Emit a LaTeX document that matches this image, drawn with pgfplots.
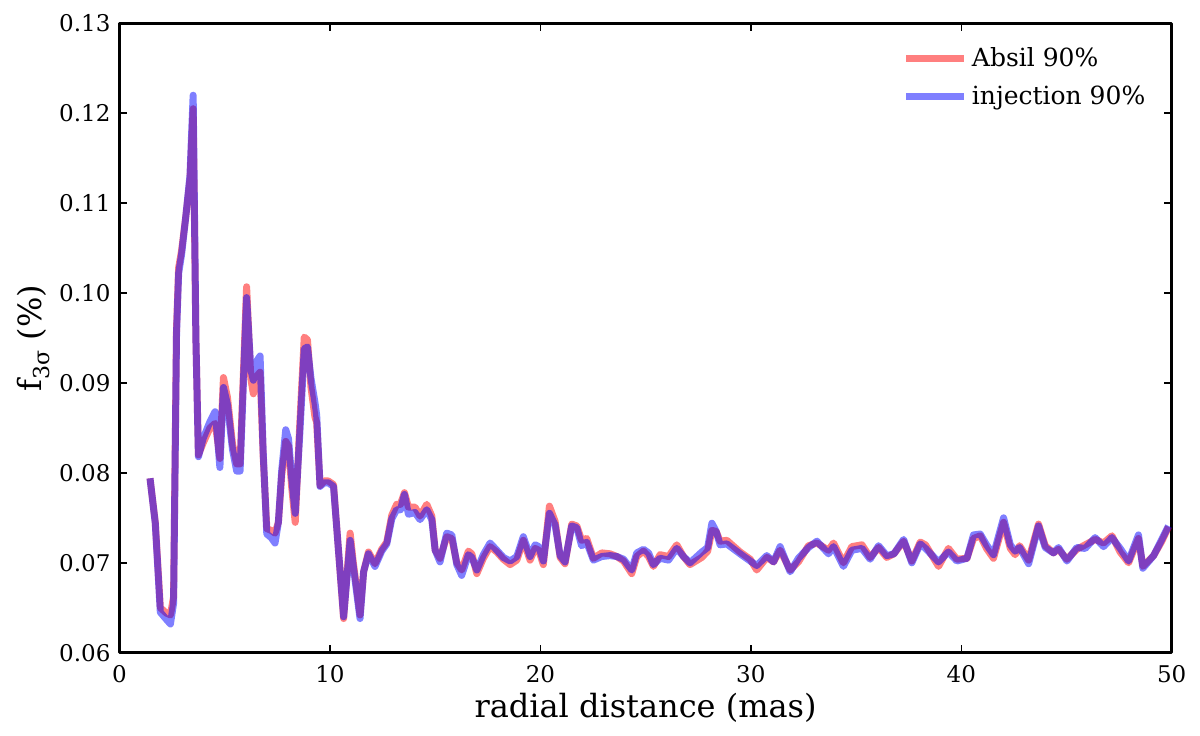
\documentclass[border=0pt]{standalone}
\usepackage{fontspec}
\setmainfont{DejaVu Serif}
\usepackage{pgfplots}
\usepackage{pgfplotstable}
\pgfplotsset{compat=1.18}

% Absil 90%
\pgfplotstableread{
x y
1.45 0.0794
1.70 0.0745
1.94 0.0650
2.23 0.0644
2.42 0.0642
2.57 0.0662
2.71 0.0960
2.81 0.1028
2.95 0.1047
3.15 0.1085
3.35 0.1127
3.50 0.1205
3.63 0.0950
3.75 0.0820
3.97 0.0833
4.30 0.0850
4.54 0.0855
4.65 0.0838
4.77 0.0816
4.94 0.0906
5.13 0.0884
5.37 0.0832
5.57 0.0810
5.73 0.0810
6.04 0.1007
6.24 0.0905
6.36 0.0888
6.54 0.0908
6.68 0.0912
6.83 0.0818
7.00 0.0738
7.21 0.0736
7.39 0.0733
7.55 0.0745
7.71 0.0798
7.90 0.0835
8.03 0.0830
8.18 0.0785
8.35 0.0745
8.57 0.0855
8.78 0.0951
8.93 0.0948
9.10 0.0895
9.29 0.0862
9.37 0.0856
9.53 0.0786
9.73 0.0791
9.92 0.0791
10.17 0.0787
10.65 0.0638
10.96 0.0733
11.10 0.0702
11.43 0.0642
11.60 0.0690
11.83 0.0712
12.14 0.0699
12.46 0.0715
12.70 0.0723
12.94 0.0753
13.17 0.0765
13.35 0.0765
13.54 0.0778
13.73 0.0762
14.04 0.0762
14.28 0.0752
14.60 0.0765
14.84 0.0752
15.00 0.0714
15.23 0.0705
15.55 0.0729
15.79 0.0727
16.03 0.0700
16.26 0.0692
16.58 0.0713
16.74 0.0710
16.98 0.0688
17.29 0.0705
17.61 0.0718
17.93 0.0712
18.24 0.0704
18.56 0.0698
18.88 0.0703
19.19 0.0725
19.51 0.0703
19.75 0.0716
19.92 0.0714
20.14 0.0698
20.43 0.0763
20.70 0.0746
20.94 0.0706
21.17 0.0699
21.49 0.0743
21.73 0.0741
21.96 0.0725
22.20 0.0727
22.52 0.0705
22.92 0.0711
23.31 0.0710
23.63 0.0707
23.95 0.0702
24.34 0.0688
24.58 0.0707
24.90 0.0713
25.14 0.0707
25.37 0.0696
25.69 0.0709
26.09 0.0707
26.48 0.0720
26.80 0.0707
27.11 0.0698
27.67 0.0706
27.95 0.0713
28.15 0.0736
28.35 0.0735
28.54 0.0724
28.86 0.0725
29.49 0.0712
29.97 0.0704
30.28 0.0692
30.76 0.0706
31.08 0.0701
31.39 0.0714
31.87 0.0692
32.26 0.0701
32.74 0.0719
33.14 0.0722
33.69 0.0714
33.93 0.0722
34.40 0.0700
34.80 0.0718
35.28 0.0720
35.67 0.0706
36.07 0.0717
36.46 0.0706
36.80 0.0710
37.26 0.0724
37.65 0.0702
38.05 0.0723
38.30 0.0720
38.92 0.0696
39.39 0.0716
39.79 0.0704
40.27 0.0705
40.58 0.0727
40.90 0.0730
41.20 0.0716
41.53 0.0705
42.01 0.0745
42.33 0.0716
42.56 0.0709
42.77 0.0719
43.20 0.0703
43.67 0.0743
43.99 0.0719
44.38 0.0711
44.62 0.0715
45.02 0.0704
45.49 0.0715
45.89 0.0720
46.36 0.0726
46.76 0.0722
47.16 0.0730
47.55 0.0712
47.95 0.0700
48.42 0.0727
48.63 0.0696
49.14 0.0708
49.53 0.0724
49.85 0.0740
}\absil

% injection 90%
\pgfplotstableread{
x y
1.45 0.0794
1.70 0.0744
1.94 0.0645
2.23 0.0637
2.42 0.0632
2.57 0.0655
2.71 0.0955
2.81 0.1022
2.95 0.1043
3.15 0.1085
3.35 0.1131
3.50 0.1220
3.63 0.0950
3.75 0.0818
3.97 0.0838
4.30 0.0857
4.54 0.0868
4.65 0.0842
4.77 0.0806
4.94 0.0895
5.13 0.0876
5.37 0.0826
5.57 0.0802
5.73 0.0802
6.04 0.0995
6.24 0.0915
6.36 0.0903
6.54 0.0925
6.68 0.0930
6.83 0.0822
7.00 0.0732
7.21 0.0728
7.39 0.0722
7.55 0.0745
7.71 0.0803
7.90 0.0848
8.03 0.0838
8.18 0.0795
8.35 0.0755
8.57 0.0845
8.78 0.0938
8.93 0.0940
9.10 0.0905
9.29 0.0878
9.37 0.0864
9.53 0.0785
9.73 0.0789
9.92 0.0789
10.17 0.0785
10.65 0.0640
10.96 0.0725
11.10 0.0698
11.43 0.0638
11.60 0.0690
11.83 0.0710
12.14 0.0696
12.46 0.0713
12.70 0.0721
12.94 0.0749
13.17 0.0759
13.35 0.0759
13.54 0.0776
13.73 0.0754
14.04 0.0756
14.28 0.0748
14.60 0.0759
14.84 0.0748
15.00 0.0714
15.23 0.0701
15.55 0.0733
15.79 0.0731
16.03 0.0698
16.26 0.0686
16.58 0.0709
16.74 0.0706
16.98 0.0692
17.29 0.0709
17.61 0.0722
17.93 0.0714
18.24 0.0706
18.56 0.0702
18.88 0.0707
19.19 0.0729
19.51 0.0707
19.75 0.0720
19.92 0.0718
20.14 0.0702
20.43 0.0755
20.70 0.0742
20.94 0.0708
21.17 0.0701
21.49 0.0741
21.73 0.0739
21.96 0.0719
22.20 0.0723
22.52 0.0703
22.92 0.0707
23.31 0.0708
23.63 0.0707
23.95 0.0704
24.34 0.0692
24.58 0.0711
24.90 0.0715
25.14 0.0711
25.37 0.0698
25.69 0.0705
26.09 0.0703
26.48 0.0716
26.80 0.0707
27.11 0.0700
27.67 0.0712
27.95 0.0717
28.15 0.0744
28.35 0.0735
28.54 0.0720
28.86 0.0721
29.49 0.0710
29.97 0.0702
30.28 0.0697
30.76 0.0708
31.08 0.0701
31.39 0.0718
31.87 0.0690
32.26 0.0705
32.74 0.0717
33.14 0.0724
33.69 0.0710
33.93 0.0718
34.40 0.0696
34.80 0.0714
35.28 0.0716
35.67 0.0704
36.07 0.0719
36.46 0.0708
36.80 0.0710
37.26 0.0726
37.65 0.0700
38.05 0.0721
38.30 0.0716
38.92 0.0701
39.39 0.0712
39.79 0.0702
40.27 0.0705
40.58 0.0731
40.90 0.0732
41.20 0.0720
41.53 0.0709
42.01 0.0750
42.33 0.0720
42.56 0.0713
42.77 0.0717
43.20 0.0699
43.67 0.0741
43.99 0.0717
44.38 0.0711
44.62 0.0717
45.02 0.0702
45.49 0.0717
45.89 0.0716
46.36 0.0728
46.76 0.0718
47.16 0.0728
47.55 0.0716
47.95 0.0702
48.42 0.0731
48.63 0.0694
49.14 0.0708
49.53 0.0726
49.85 0.0741
}\injection

\begin{document}
\begin{tikzpicture}
\begin{axis}[
    scale only axis,
    width=526.1pt, height=314.7pt,
    xmin=0, xmax=50,
    ymin=0.06, ymax=0.13,
    xtick={0,10,20,30,40,50},
    ytick={0.06,0.07,0.08,0.09,0.10,0.11,0.12,0.13},
    minor tick num=0,
    /pgf/number format/assume math mode=true,
    yticklabel style={/pgf/number format/fixed, /pgf/number format/fixed zerofill, /pgf/number format/precision=2, font=\fontsize{11.5}{12}\selectfont, xshift=-1pt},
    xticklabel style={font=\fontsize{11.5}{12}\selectfont, yshift=-3pt},
    scaled y ticks=false,
    tick align=inside,
    major tick length=3.75pt,
    every tick/.style={black, line width=0.75pt},
    axis line style={line width=1.5pt},
    xlabel={radial distance (mas)},
    ylabel={f\raisebox{-0.45ex}{\fontsize{11}{12}\selectfont 3σ} (\%)},
    xlabel style={font=\fontsize{16}{18}\selectfont, yshift=2pt},
    ylabel style={font=\fontsize{16}{18}\selectfont, yshift=-2pt},
    legend style={draw=none, fill=none, at={(1,1)}, anchor=north east,
        xshift=-8pt, yshift=-8pt,
        font=\fontsize{12.5}{14}\selectfont,
        row sep=4pt,
        nodes={inner sep=2pt}},
    legend cell align=left,
    legend image code/.code={\draw[#1, line width=3.5pt] (0pt,0pt) -- (29pt,0pt);},
    line join=round,
]
\addplot[red, line width=3.5pt, opacity=0.5] table[x=x, y=y] {\absil};
\addlegendentry{Absil 90\%}
\addplot[blue, line width=3.5pt, opacity=0.5] table[x=x, y=y] {\injection};
\addlegendentry{injection 90\%}
\end{axis}
\path ([shift={(-59.75pt,-41.15pt)}]current axis.south west) rectangle ([shift={(14.15pt,11.65pt)}]current axis.north east);
\end{tikzpicture}
\end{document}
